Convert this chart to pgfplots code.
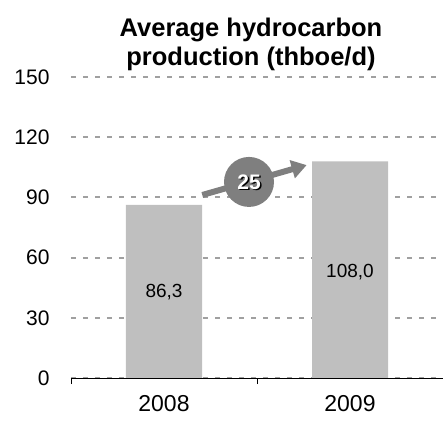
\documentclass[border=0pt]{standalone}
\usepackage{pgfplots}
\pgfplotsset{compat=1.18}
\usepackage{fontspec}
\setmainfont{Liberation Sans}
\usetikzlibrary{arrows.meta}
\definecolor{bargray}{HTML}{BFBFBF}
\definecolor{gridgray}{HTML}{A0A0A0}
\definecolor{arrgray}{HTML}{7F7F7F}
\begin{document}
\begin{tikzpicture}
\useasboundingbox (-71bp,-43bp) rectangle (372bp,378bp);
\begin{axis}[
  at={(0,0)}, anchor=south west,
  scale only axis, width=372bp, height=301bp,
  xmin=-0.5, xmax=1.5, ymin=0, ymax=150,
  ytick={0,30,...,150},
  xtick={0,1}, xticklabels={2008,2009},
  axis lines*=left,
  y axis line style={draw=none},
  x axis line style={black, line width=0.8bp},
  major tick length=0pt,
  tick align=outside,
  extra x ticks={-0.5,0.5,1.5}, extra x tick labels={},
  extra x tick style={major tick length=6bp, tick style={black, line width=0.8bp}, grid=none},
  ymajorgrids,
  grid style={gridgray, line width=2bp, dash pattern=on 5bp off 7bp},
  yticklabel style={font=\fontsize{21bp}{24bp}\selectfont, anchor=east, xshift=-18bp},
  xticklabel style={font=\fontsize{23bp}{26bp}\selectfont, yshift=-14bp},
  /pgf/number format/assume math mode=true,
  clip=false,
]
\addplot[ybar, bar width=76bp, fill=bargray, draw=none] coordinates {(0,86.3) (1,108.0)};
\node[font=\fontsize{19bp}{21bp}\selectfont] at (axis cs:0,42.9) {86,3};
\node[font=\fontsize{19bp}{21bp}\selectfont] at (axis cs:1,52.8) {108,0};
\draw[arrgray, line width=6bp, -{Triangle[width=18bp,length=15bp]}] (axis cs:0.206,91.2) -- (axis cs:0.767,106.1);
\fill[arrgray] (axis cs:0.457,97.7) circle[radius=25bp];
\node[font=\bfseries\fontsize{21bp}{24bp}\selectfont, text=black] at ([xshift=1.5bp,yshift=-1.5bp]axis cs:0.457,97.7) {25};
\node[font=\bfseries\fontsize{21bp}{24bp}\selectfont, text=white] at (axis cs:0.457,97.7) {25};
\end{axis}
\draw[black, line width=0.8bp] (0,0) -- (372bp,0);
\node[font=\bfseries\fontsize{25.5bp}{29bp}\selectfont, align=center] at (180bp,334bp) {Average hydrocarbon\\production (thboe/d)};
\end{tikzpicture}
\end{document}
